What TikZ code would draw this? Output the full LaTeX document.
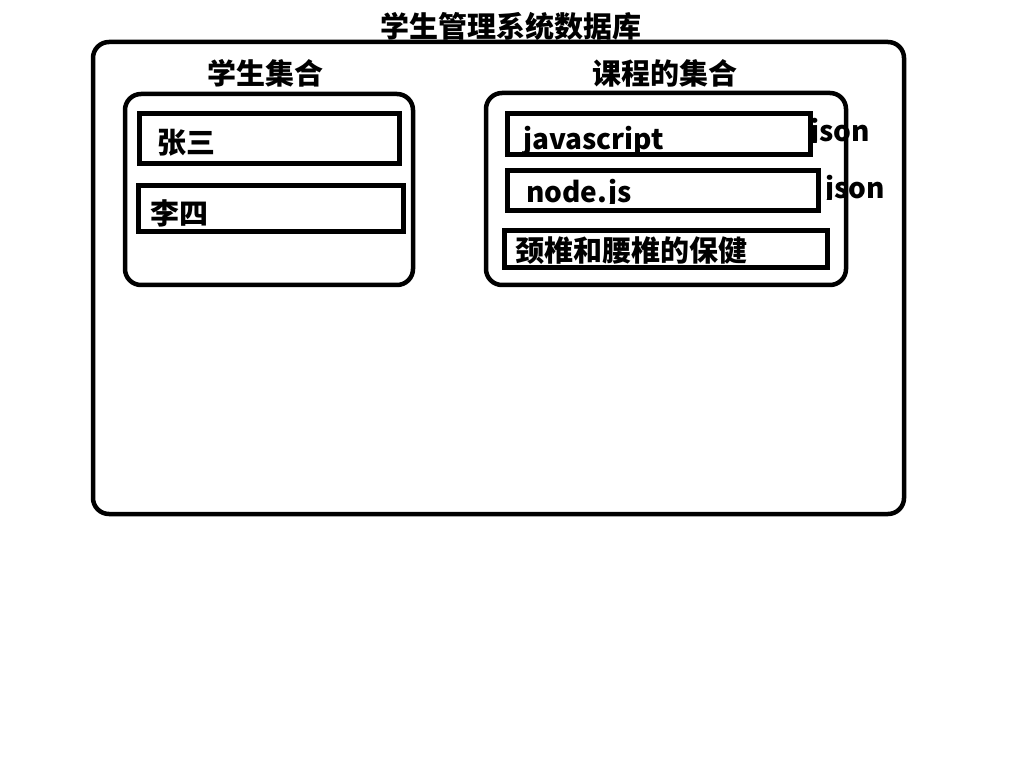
\documentclass[tikz,border=0pt]{standalone}
\usepackage{fontspec}
\setmainfont{Noto Sans CJK SC}
\begin{document}
\begin{tikzpicture}[x=1pt,y=-1pt,
  outerbox/.style={draw=black,line width=4.5pt,rounded corners=16pt},
  itembox/.style={draw=black,line width=5pt},
  lbl/.style={inner sep=0pt,anchor=base west,font=\fontsize{29}{31}\selectfont\bfseries},
  lat/.style={inner sep=0pt,anchor=base west,font=\fontsize{28}{30}\selectfont\bfseries}]
\useasboundingbox[fill=white] (0,0) rectangle (1024,783);
% titles
\node[lbl] (title) at (380,38) {学生管理系统数据库};
\node[lbl] (stulbl) at (207,85) {学生集合};
\node[lbl] (crslbl) at (592,85) {课程的集合};
% containers
\draw[outerbox] (93,42) rectangle (904,514);
\draw[outerbox] (125,94) rectangle (413,285);
% student items
\node[lbl] (zs) at (157,154) {张三};
\draw[itembox] (139.5,114) rectangle (399.5,164);
\node[lbl] (ls) at (150,225) {李四};
\draw[itembox] (138,186) rectangle (403,232);
% course items
\begin{scope}
  \clip (500,100) rectangle (830,157);
  \node[lat] (js) at (523,150) {javascript};
\end{scope}
\draw[itembox] (507.5,113.5) rectangle (810.5,154.5);
\begin{scope}
  \clip (500,160) rectangle (830,204);
  \node[lat] (nd) at (526,203) {node.js};
\end{scope}
\draw[itembox] (507.5,170.5) rectangle (818.5,210.5);
\begin{scope}
  \clip (808,100) rectangle (900,143);
  \node[lat] (json1) at (810,142) {json};
\end{scope}
\begin{scope}
  \clip (822,160) rectangle (900,200);
  \node[lat] (json2) at (825,199) {json};
\end{scope}
\node[lbl] (jz) at (515,262) {颈椎和腰椎的保健};
\draw[itembox] (504.5,230.5) rectangle (827.5,267.5);
\draw[outerbox] (486,93) rectangle (846,285);
\end{tikzpicture}
\end{document}
